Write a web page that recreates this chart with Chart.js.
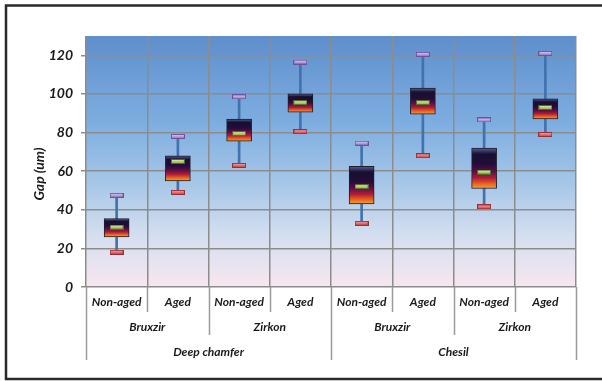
<!DOCTYPE html>
<html><head><meta charset="utf-8">
<script src="https://cdn.jsdelivr.net/npm/chart.js@4.4.0/dist/chart.umd.min.js"></script>
<style>html,body{margin:0;padding:0;background:#fff;}#wrap{width:602px;height:381px;position:relative;}</style>
</head><body><div id="wrap"><canvas id="c" width="602" height="381"></canvas></div>
<script>
const categories = ['Non-aged','Aged','Non-aged','Aged','Non-aged','Aged','Non-aged','Aged'];
const materials = ['Bruxzir','Zirkon','Bruxzir','Zirkon'];
const preparations = ['Deep chamfer','Chesil'];
const minValues    = [18, 49, 63, 80.5, 33, 68, 41.5, 79];
const q1Values     = [26, 55, 75.5, 90.5, 43, 89.5, 51, 87];
const medianValues = [31, 65, 79.5, 95.5, 52, 95.5, 59.5, 93];
const q3Values     = [35.5, 68, 87, 100, 62.5, 103, 72, 97.5];
const maxValues    = [47.5, 78, 98.5, 116.5, 74.5, 120.5, 86.5, 121];
const yTicks = [0, 20, 40, 60, 80, 100, 120];
const yTitle = 'Gap (um)';

const FONT = 'Lato, "Liberation Sans", sans-serif';
const GRID = '#8c8c8c';

function marker(fill, light, stroke){
  const c = document.createElement('canvas'); c.width = 14; c.height = 5;
  const x = c.getContext('2d');
  x.fillStyle = fill; x.fillRect(0,0,14,5);
  x.fillStyle = light; x.fillRect(1,1,12,1.5);
  x.strokeStyle = stroke; x.lineWidth = 1; x.strokeRect(0.5,0.5,13,4);
  return c;
}
const medMark = marker('#9dc05a','#c8e08a','#56662e');
const maxMark = marker('#a98ad2','#cbb6ea','#6c5596');
const minMark = marker('#e0585a','#f08a8a','#943036');

function boxFill(ctx){
  const chart = ctx.chart, i = ctx.dataIndex;
  const y = chart.scales && chart.scales.y;
  if (!y || i === undefined) return '#1a1030';
  const top = y.getPixelForValue(q3Values[i]);
  const bot = y.getPixelForValue(q1Values[i]);
  if (!isFinite(top) || !isFinite(bot) || bot <= top) return '#1a1030';
  const g = chart.ctx.createLinearGradient(0, top, 0, bot);
  g.addColorStop(0, '#5c5c8c');
  g.addColorStop(0.07, '#3c3a6c');
  g.addColorStop(0.15, '#16102e');
  g.addColorStop(0.4, '#240c3a');
  g.addColorStop(0.58, '#5e0e44');
  g.addColorStop(0.74, '#b01c38');
  g.addColorStop(0.88, '#e8621e');
  g.addColorStop(1, '#f5a432');
  return g;
}

const decor = {
  id: 'decor',
  beforeDraw(chart){
    const {ctx, chartArea: a} = chart;
    ctx.save();
    const g = ctx.createLinearGradient(0, a.top, 0, a.bottom);
    g.addColorStop(0, '#5f8fcc');
    g.addColorStop(0.35, '#7eaee0');
    g.addColorStop(0.6, '#a9c8e8');
    g.addColorStop(0.8, '#d5dff0');
    g.addColorStop(1, '#f8e6ef');
    ctx.fillStyle = g;
    ctx.fillRect(a.left, a.top, a.right - a.left, a.bottom - a.top);
    ctx.restore();
  },
  afterDraw(chart){
    const {ctx, chartArea: a, scales: {x}} = chart;
    ctx.save();
    const n = categories.length;
    const bound = i => i === 0 ? a.left : (i === n ? a.right : (x.getPixelForValue(i-1) + x.getPixelForValue(i)) / 2);
    ctx.strokeStyle = '#9a9a9a'; ctx.lineWidth = 1.5;
    for (let i = 0; i <= n; i++){
      let len = 25;
      if (i % 4 === 0) len = 73; else if (i % 2 === 0) len = 48;
      const px = Math.round(bound(i)) + 0.5;
      ctx.beginPath(); ctx.moveTo(px, a.bottom); ctx.lineTo(px, a.bottom + len); ctx.stroke();
    }
    ctx.fillStyle = '#1a1a1a';
    ctx.font = 'italic bold 12px ' + FONT;
    ctx.textAlign = 'center'; ctx.textBaseline = 'middle';
    materials.forEach((m, k) => {
      ctx.fillText(m, (bound(2*k) + bound(2*k+2)) / 2, a.bottom + 40);
    });
    preparations.forEach((p, k) => {
      ctx.fillText(p, (bound(4*k) + bound(4*k+4)) / 2, a.bottom + 65);
    });
    // axis title
    ctx.font = 'italic bold 14px ' + FONT;
    ctx.translate(39, 174); ctx.rotate(-Math.PI/2);
    ctx.fillText(yTitle, 0, 0);
    ctx.setTransform(1,0,0,1,0,0);
    // frame
    ctx.strokeStyle = '#2a2a2a'; ctx.lineWidth = 2.5;
    ctx.beginPath();
    ctx.moveTo(602, 5.5); ctx.lineTo(6, 5.5); ctx.lineTo(6, 379); ctx.lineTo(602, 379);
    ctx.stroke();
    ctx.restore();
  }
};

new Chart(document.getElementById('c'), {
  type: 'bar',
  data: {
    labels: categories,
    datasets: [
      { label: 'whisker', data: minValues.map((v,i) => [v, maxValues[i]]), backgroundColor: '#4272ad',
        barThickness: 2, grouped: false, order: 6, borderWidth: 0 },
      { label: 'box', data: q1Values.map((v,i) => [v, q3Values[i]]), backgroundColor: boxFill,
        borderColor: '#1e1e28', borderWidth: 1, borderSkipped: false, barThickness: 25, grouped: false, order: 5 },
      { type: 'line', label: 'median', data: medianValues, showLine: false, pointStyle: medMark, order: 1 },
      { type: 'line', label: 'max', data: maxValues, showLine: false, pointStyle: maxMark, order: 2 },
      { type: 'line', label: 'min', data: minValues, showLine: false, pointStyle: minMark, order: 3 }
    ]
  },
  options: {
    responsive: false, animation: false, devicePixelRatio: 1,
    layout: { padding: { left: 0, top: 36, right: 26, bottom: 69 } },
    plugins: { legend: { display: false }, tooltip: { enabled: false } },
    scales: {
      x: {
        offset: true,
        grid: { offset: true, color: GRID, lineWidth: 1.5, drawTicks: false },
        border: { display: false },
        ticks: { color: '#1a1a1a', font: { family: FONT, size: 12, weight: 'bold', style: 'italic' }, padding: 8, maxRotation: 0, autoSkip: false },
        afterFit(s){ s.height = 25; }
      },
      y: {
        min: 0, max: 130,
        afterBuildTicks(s){ s.ticks = yTicks.map(v => ({ value: v })); },
        grid: { color: GRID, lineWidth: 1.5, tickLength: 5 },
        border: { display: false },
        ticks: { color: '#1a1a1a', font: { family: FONT, size: 14, weight: 'bold', style: 'italic' }, padding: 8 },
        afterFit(s){ s.width = 86; }
      }
    }
  },
  plugins: [decor]
});
</script>
</body></html>
